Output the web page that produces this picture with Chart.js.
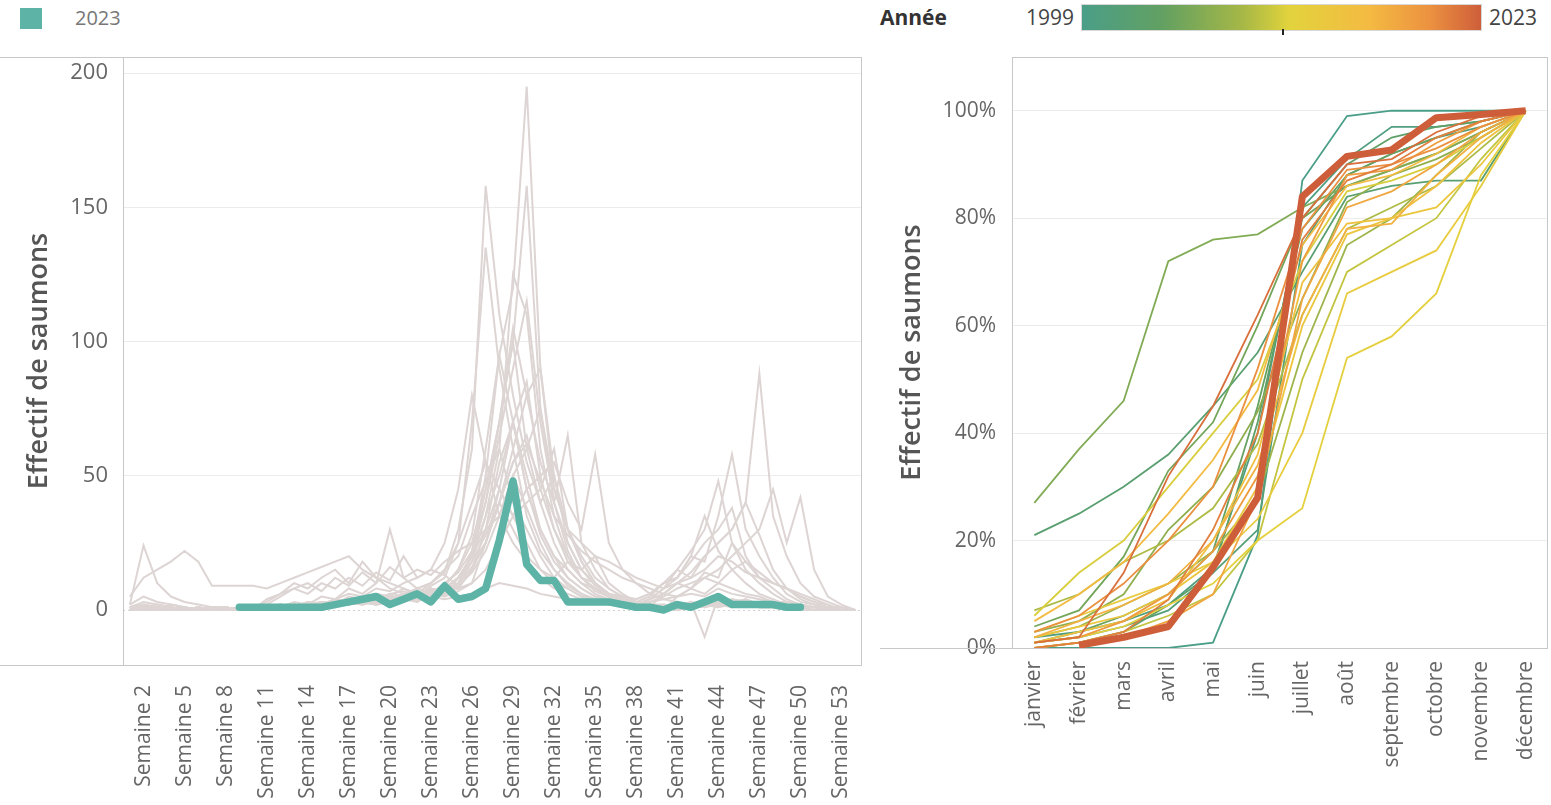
<!DOCTYPE html>
<html><head><meta charset="utf-8">
<script src="https://cdn.jsdelivr.net/npm/chart.js@4.4.0/dist/chart.umd.min.js"></script>
<style>
body{margin:0;width:1551px;height:805px;overflow:hidden;background:#fff;font-family:"Open Sans",sans-serif;}
.abs{position:absolute;}
#w1{left:0;top:50px;}
#w2{left:870px;top:50px;}
#sw{left:20px;top:8px;width:22px;height:21px;background:#5cb3a6;}
#lg{left:75px;top:4px;font-size:20px;color:#777;}
#an{left:880px;top:3px;font-size:21px;font-weight:700;color:#333;}
#y0{left:1026px;top:3px;font-size:21px;color:#444;}
#y1{left:1489px;top:3px;font-size:21px;color:#444;}
#bar{left:1081px;top:4px;width:401px;height:27px;border:1px solid #d8d8d8;box-sizing:border-box;}
#mk{left:1282px;top:29px;width:2px;height:6px;background:#222;}
</style></head>
<body>
<div class="abs" id="sw"></div><div class="abs" id="lg">2023</div>
<div class="abs" id="an">Année</div><div class="abs" id="y0">1999</div>
<div class="abs" id="bar"></div><div class="abs" id="mk"></div><div class="abs" id="y1">2023</div>
<div class="abs" id="w1"><canvas id="c1" width="870" height="755"></canvas></div>
<div class="abs" id="w2"><canvas id="c2" width="681" height="755"></canvas></div>
<script>
// ---------- DATA ----------
const weeks = Array.from({length:54},(_, i)=>i+1);
const weekTicks = [2,5,8,11,14,17,20,23,26,29,32,35,38,41,44,47,50,53];
const countTicks = [0,50,100,150,200];
const months = ['janvier','février','mars','avril','mai','juin','juillet','août','septembre','octobre','novembre','décembre'];
const pctTicks = [0,20,40,60,80,100];
const years = [1999,2000,2001,2002,2003,2004,2005,2006,2007,2008,2009,2010,2011,2012,2013,2014,2015,2016,2017,2018,2019,2020,2021,2022];

const weekly1999 = [0,1,2,1,0,1,0,0,1,0, 1,2,1,3,2,4,3,5,2,4, 6,3,8,5,12,18,25,40,55,62, 48,35,28,22,18,15,12,10,8,6, 5,8,6,10,8,6,5,3,2,1, 1,0,0,0];
const weekly2000 = [1,3,2,1,0,0,1,0,0,1, 0,1,2,1,3,2,2,4,3,5, 4,6,5,9,15,28,60,95,120,195, 90,45,30,18,10,6,4,3,2,2, 1,2,1,3,2,4,2,1,1,1, 0,1,0,0];
const weekly2001 = [2,5,3,2,1,0,0,1,0,0, 1,0,2,1,2,3,4,3,6,5, 8,6,10,14,30,60,158,110,80,55, 40,25,15,10,6,4,3,2,2,1, 1,3,2,5,3,4,2,2,1,1, 0,0,1,0];
const weekly2002 = [0,1,1,0,0,1,0,0,0,0, 1,1,0,2,1,3,2,3,4,3, 5,4,6,8,12,20,45,70,100,158, 75,40,22,12,7,5,3,2,1,1, 0,1,2,1,3,2,1,1,0,0, 0,0,0,0];
const weekly2003 = [1,2,1,1,0,0,1,1,0,1, 0,1,1,2,3,2,5,4,3,6, 7,5,9,12,25,70,135,90,60,35, 22,15,9,6,4,3,2,1,1,0, 1,2,1,2,1,3,2,1,0,0, 0,1,0,0];
const weekly2004 = [0,0,1,0,1,0,0,0,1,0, 0,1,2,1,2,4,3,2,5,4, 6,5,4,7,10,18,35,60,125,110, 60,35,20,12,8,5,4,2,1,6, 10,8,14,12,25,18,14,10,8,5, 3,2,0,0];
const weekly2005 = [2,24,10,5,3,2,1,1,0,1, 1,2,1,3,2,2,3,4,3,5, 4,6,5,8,12,20,40,70,105,80, 55,40,65,25,15,8,5,3,2,1, 2,1,3,2,3,2,1,1,1,0, 0,1,0,0];
const weekly2006 = [5,12,15,18,22,18,9,9,9,9, 8,10,12,14,16,18,20,15,12,10, 8,6,5,4,5,6,8,10,9,8, 6,5,4,4,3,3,2,2,3,4, 5,6,5,8,6,5,4,3,3,2, 1,1,0,0];
const weekly2007 = [0,1,0,2,1,0,0,1,0,0, 1,0,1,2,1,3,2,4,3,2, 5,4,7,6,10,22,50,95,70,45, 30,20,12,8,5,4,3,2,4,8, 15,22,30,48,25,15,10,6,3,2, 1,1,0,0];
const weekly2008 = [1,0,0,1,0,1,0,0,1,0, 0,2,1,1,3,2,2,3,5,4, 3,6,5,10,8,15,30,55,70,85, 50,30,18,12,10,6,5,4,6,10, 12,20,18,35,58,30,20,12,6,3, 2,1,1,0];
const weekly2009 = [0,1,1,0,0,0,1,0,0,1, 3,6,8,10,7,12,9,14,10,16, 12,15,13,18,22,25,30,35,50,60, 75,45,30,25,20,18,15,12,10,8, 10,12,15,20,18,14,12,10,8,6, 4,2,0,0];
const weekly2010 = [0,2,1,0,1,0,0,1,0,0, 1,1,2,1,2,1,3,4,2,3, 4,3,6,5,7,10,25,45,70,50, 30,20,15,10,8,6,5,4,6,10, 15,12,20,25,30,40,88,35,20,10, 5,3,1,0];
const weekly2011 = [1,0,0,1,0,0,0,1,0,0, 2,1,3,2,5,4,8,6,10,30, 12,8,10,15,20,35,48,60,40,30, 20,12,8,5,3,2,1,1,0,2, 1,3,-10,5,3,2,1,1,0,0, 0,0,0,0];
const weekly2012 = [0,1,0,0,1,0,0,0,1,0, 0,1,1,2,1,2,3,2,3,4, 3,5,4,6,8,10,15,25,35,45, 50,55,40,30,58,25,15,10,6,4, 3,2,3,2,4,3,2,1,1,0, 0,1,0,0];
const weekly2013 = [0,1,0,1,0,0,1,0,0,1, 0,2,1,1,3,2,4,3,2,5, 4,6,5,8,12,20,30,45,35,25, 15,10,8,5,4,3,2,2,3,5, 8,10,12,15,20,25,30,45,25,42, 15,5,2,0];
const weekly2014 = [1,0,0,0,1,0,0,0,1,0, 4,6,10,8,12,15,10,18,12,8, 6,5,7,9,15,25,45,70,100,60, 40,50,25,15,10,6,4,2,1,1, 0,1,2,1,2,1,2,1,0,1, 0,0,0,0];
const weekly2015 = [0,0,1,0,0,1,0,0,0,1, 0,1,2,1,3,2,3,5,4,6, 5,8,6,10,14,22,40,65,90,115, 70,40,25,15,9,6,4,3,2,1, 2,1,2,3,4,2,1,1,0,0, 0,0,0,0];
const weekly2016 = [1,1,0,0,0,0,1,0,0,0, 1,2,1,3,2,4,6,5,8,7, 10,12,15,25,45,80,55,35,25,18, 12,8,6,4,3,2,2,3,5,10, 12,18,25,30,38,20,12,8,4,2, 1,1,0,0];
const weekly2017 = [0,1,0,1,0,0,0,1,0,0, 0,1,1,2,3,2,3,4,5,3, 6,5,8,7,10,16,25,40,55,65, 45,30,20,12,8,5,3,2,4,6, 10,14,20,25,30,40,28,15,8,4, 2,1,0,0];
const weekly2018 = [0,0,1,0,0,0,0,0,1,0, 2,5,8,6,10,8,12,9,14,11, 20,12,15,13,9,14,22,35,50,38, 25,15,10,6,4,3,2,1,1,0, 5,8,12,10,15,18,12,10,8,5, 3,1,0,0];
const weekly2019 = [1,0,1,0,0,1,0,0,0,0, 1,1,0,2,1,3,2,3,4,3, 5,4,7,6,9,15,25,40,60,80, 90,50,30,20,12,8,5,3,2,1, 2,1,3,2,4,3,2,1,1,0, 0,0,0,0];
const weekly2020 = [0,1,0,0,1,0,0,0,0,1, 0,1,2,1,2,1,3,2,4,3, 5,4,8,6,10,18,28,40,30,20, 15,12,18,15,20,10,6,3,2,1, 1,2,1,3,2,4,2,1,1,0, 0,0,0,0];
const weekly2021 = [0,0,0,1,0,0,1,0,0,0, 1,0,1,1,2,3,2,3,2,4, 5,4,6,8,12,20,35,50,70,45, 28,18,12,8,5,4,3,2,4,8, 12,20,35,22,15,10,6,4,2,1, 1,0,0,0];
const weekly2022 = [1,0,0,0,0,1,0,0,1,0, 0,1,2,1,3,2,4,3,5,4, 6,8,10,15,25,40,55,45,35,40, 45,60,30,18,10,6,4,3,2,1, 1,2,1,3,2,2,1,1,0,0, 0,0,0,0];
const weekly2023 = [null,null,null,null,null,null,null,null, 1,1,1,1,1,1,1,2,3,4,5,2,4,6,3,9,4,5,8,26,48,17,11,11,3,3,3,3,2,1,1,0,2,1,3,5,2,2,2,2,1,1, null,null,null,null];

const weeklyPast = [weekly1999,weekly2000,weekly2001,weekly2002,weekly2003,weekly2004,weekly2005,weekly2006,weekly2007,weekly2008,weekly2009,weekly2010,weekly2011,weekly2012,weekly2013,weekly2014,weekly2015,weekly2016,weekly2017,weekly2018,weekly2019,weekly2020,weekly2021,weekly2022];

const cum1999 = [0,0,0,0,1,21,87,99,100,100,100,100];
const cum2000 = [2,3,5,8,15,40,82,91,97,97,98,100];
const cum2001 = [1,2,4,7,14,22,75,88,92,95,97,100];
const cum2002 = [21,25,30,36,45,55,70,84,86,87,87,100];
const cum2003 = [0,1,3,8,14,42,80,90,95,97,98,100];
const cum2004 = [1,3,6,10,18,45,78,88,92,95,98,100];
const cum2005 = [4,7,17,33,42,60,80,86,89,92,96,100];
const cum2006 = [27,37,46,72,76,77,82,86,89,92,96,100];
const cum2007 = [3,5,10,22,30,44,65,83,88,91,95,100];
const cum2008 = [2,4,8,12,18,28,55,75,80,88,96,100];
const cum2009 = [7,10,16,20,26,38,62,78,82,86,93,100];
const cum2010 = [0,1,3,6,10,20,50,70,75,80,91,100];
const cum2011 = [6,14,20,30,40,50,72,85,87,90,95,100];
const cum2012 = [1,2,4,8,12,20,26,54,58,66,88,100];
const cum2013 = [3,6,9,12,16,24,40,66,70,74,86,100];
const cum2014 = [2,4,6,10,16,30,60,77,80,82,90,100];
const cum2015 = [1,3,5,9,20,36,68,79,80,86,94,100];
const cum2016 = [5,10,16,25,35,48,75,86,88,92,97,100];
const cum2017 = [2,5,8,12,20,34,62,78,79,88,95,100];
const cum2018 = [0,1,2,5,10,28,65,82,85,90,96,100];
const cum2019 = [1,2,5,10,18,32,72,88,89,94,98,100];
const cum2020 = [3,6,12,20,30,52,78,89,90,93,97,100];
const cum2021 = [0,1,3,9,22,40,76,87,90,95,98,100];
const cum2022 = [1,2,14,32,45,62,80,90,91,96,99,100];
const cum2023 = [null,0.5,2,4,15,28,84,91.5,92.7,98.7,99.3,100];

const cumPast = [cum1999,cum2000,cum2001,cum2002,cum2003,cum2004,cum2005,cum2006,cum2007,cum2008,cum2009,cum2010,cum2011,cum2012,cum2013,cum2014,cum2015,cum2016,cum2017,cum2018,cum2019,cum2020,cum2021,cum2022];

// ---------- STYLE ----------
const gradStops = [[0,[74,158,136]],[0.2,[98,160,98]],[0.4,[165,183,70]],[0.52,[226,211,60]],[0.72,[244,186,66]],[0.87,[236,146,64]],[1,[206,94,58]]];
function yearColor(y){
  const t=(y-1999)/24;
  for(let i=1;i<gradStops.length;i++){
    if(t<=gradStops[i][0]){
      const a=gradStops[i-1],b=gradStops[i],f=(t-a[0])/(b[0]-a[0]);
      const c=a[1].map((v,k)=>Math.round(v+(b[1][k]-v)*f));
      return 'rgb('+c.join(',')+')';
    }
  }
  return 'rgb(206,94,58)';
}
document.getElementById('bar').style.background='linear-gradient(to right,'+gradStops.map(s=>'rgb('+s[1].join(',')+') '+(s[0]*100)+'%').join(',')+')';

const FONT='"Open Sans", sans-serif';
const TEAL='#5cb3a6', GREY='#ddd5d3';

const framePlugin = (leftExt, topExt) => ({
  id:'frame',
  beforeDatasetsDraw(chart){
    const {ctx, chartArea:a, scales:{y}} = chart;
    const z = y.getPixelForValue(0);
    ctx.save(); ctx.strokeStyle='#cfcfcf'; ctx.lineWidth=1; ctx.setLineDash([2,3]);
    ctx.beginPath(); ctx.moveTo(a.left,z+0.5); ctx.lineTo(a.right,z+0.5); ctx.stroke(); ctx.restore();
  },
  afterDraw(chart){
    const {ctx, chartArea:a} = chart;
    ctx.save(); ctx.strokeStyle='#c8c8c8'; ctx.lineWidth=1;
    ctx.strokeRect(a.left+0.5,a.top+0.5,a.right-a.left-1,a.bottom-a.top);
    ctx.beginPath();
    ctx.moveTo(leftExt,a.bottom+0.5); ctx.lineTo(a.left,a.bottom+0.5);
    if(topExt!==null){ ctx.moveTo(topExt,a.top+0.5); ctx.lineTo(a.left,a.top+0.5); }
    ctx.stroke(); ctx.restore();
  }
});
const noPad = s => { s.paddingTop=0; s.paddingBottom=0; s.paddingLeft=0; s.paddingRight=0; };

Chart.defaults.font.family = FONT;
Chart.defaults.animation = false;

// ---------- LEFT CHART ----------
const ds1 = [{
  label:'2023', data: weeks.map((w,i)=>({x:w,y:weekly2023[i]})).filter(p=>p.y!==null),
  borderColor:TEAL, borderWidth:7.5, pointRadius:0, order:-1, borderJoinStyle:'round', borderCapStyle:'round'
}].concat(weeklyPast.map((arr,k)=>({
  label:String(years[k]), data: weeks.map((w,i)=>({x:w,y:arr[i]})),
  borderColor:GREY, borderWidth:2, pointRadius:0, order:k
})));

new Chart(document.getElementById('c1'), {
  type:'line',
  data:{datasets:ds1},
  options:{
    responsive:false, devicePixelRatio:1,
    layout:{padding:{top:7,right:8,left:0,bottom:0}},
    plugins:{legend:{display:false},tooltip:{enabled:false}},
    scales:{
      x:{type:'linear',min:0.5,max:54.5,
        afterBuildTicks:s=>{s.ticks=weekTicks.map(v=>({value:v}));},
        afterFit:s=>{s.height=140; noPad(s);},
        grid:{display:false},border:{display:false},
        ticks:{autoSkip:false,maxRotation:90,minRotation:90,padding:12,color:'#666',font:{size:21},callback:v=>'Semaine '+v}},
      y:{min:-20.5,max:206,
        afterBuildTicks:s=>{s.ticks=countTicks.map(v=>({value:v}));},
        afterFit:s=>{s.width=123; noPad(s);},
        grid:{color:c=>c.tick&&c.tick.value===0?'rgba(0,0,0,0)':'#ececec',drawTicks:false},
        border:{display:false},
        ticks:{padding:15,color:'#666',font:{size:22}},
        title:{display:true,text:'Effectif de saumons',color:'#555',font:{size:27,weight:'600'},padding:{top:23,bottom:0}}}
    }
  },
  plugins:[framePlugin(0,0)]
});

// ---------- RIGHT CHART ----------
const ds2 = [{
  label:'2023', data:cum2023, borderColor:yearColor(2023), borderWidth:7, pointRadius:0, order:-1, spanGaps:false, borderJoinStyle:'round'
}].concat(cumPast.map((arr,k)=>({
  label:String(years[k]), data:arr, borderColor:yearColor(years[k]), borderWidth:1.8, pointRadius:0, order:24-k
})));

new Chart(document.getElementById('c2'), {
  type:'line',
  data:{labels:months, datasets:ds2},
  options:{
    responsive:false, devicePixelRatio:1,
    layout:{padding:{top:7,right:3,left:0,bottom:0}},
    plugins:{legend:{display:false},tooltip:{enabled:false}},
    scales:{
      x:{type:'category',offset:true,
        afterFit:s=>{s.height=157; noPad(s);},
        grid:{display:false},border:{display:false},
        ticks:{autoSkip:false,maxRotation:90,minRotation:90,padding:5,color:'#666',font:{size:21}}},
      y:{min:0,max:110,
        afterBuildTicks:s=>{s.ticks=pctTicks.map(v=>({value:v}));},
        afterFit:s=>{s.width=142; noPad(s);},
        grid:{color:c=>c.tick&&c.tick.value===0?'rgba(0,0,0,0)':'#ececec',drawTicks:false},
        border:{display:false},
        ticks:{padding:16,color:'#666',font:{size:21},callback:v=>v+'%'},
        title:{display:true,text:'Effectif de saumons',color:'#555',font:{size:27,weight:'600'},padding:{top:26,bottom:0}}}
    }
  },
  plugins:[framePlugin(10,null)]
});
</script>
</body></html>
